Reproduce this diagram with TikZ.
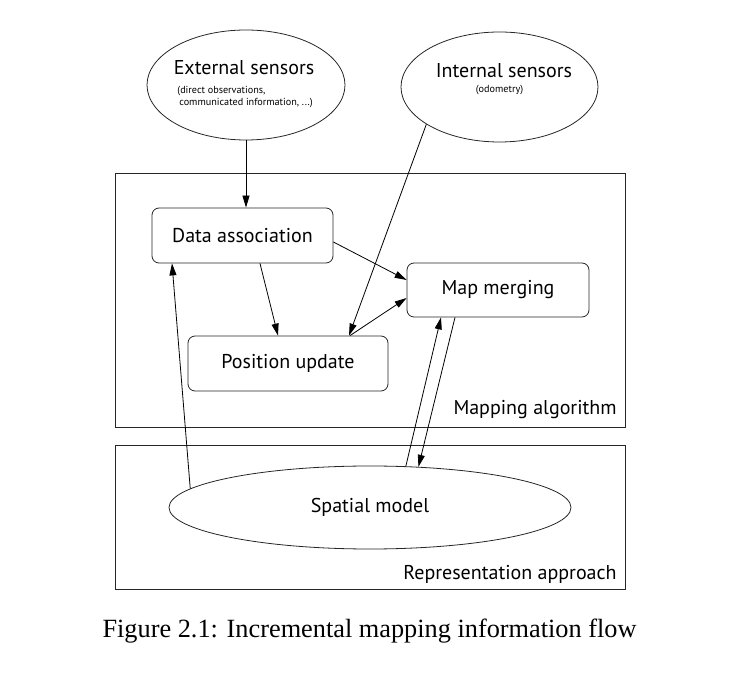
\documentclass[tikz,border=0pt]{standalone}
\usepackage{fontspec}
\setmainfont{PT Sans}
\newfontfamily\capfont{Liberation Serif}
\usetikzlibrary{arrows.meta,shapes.geometric}
\begin{document}
\begin{tikzpicture}[x=1pt,y=-1pt,
  line width=0.8pt,
  bx/.style={draw=black!85,rounded corners=7pt,inner sep=0pt,font=\fontsize{20}{22}\selectfont},
  ell/.style={draw=black!85,ellipse,inner sep=0pt},
  frm/.style={draw=black!85},
  lbl/.style={inner sep=0pt,anchor=base,font=\fontsize{20}{22}\selectfont},
  small/.style={inner sep=0pt,anchor=base west,font=\fontsize{10.2}{12}\selectfont},
  arr/.style={-{Triangle[length=12pt,width=7pt]},line width=0.8pt}]
\useasboundingbox (0,0) rectangle (748,684);
% frames
\node[frm,minimum width=510pt,minimum height=254pt,inner sep=0pt] (alg) at (370,300) {};
\node[frm,minimum width=510pt,minimum height=144pt,inner sep=0pt] (rep) at (370,517) {};
\node[lbl,anchor=base east] (algl) at (617,415) {Mapping algorithm};
\node[lbl,anchor=base east] (repl) at (617,580) {Representation approach};
% ellipses
\node[ell,minimum width=198pt,minimum height=110pt] (ext) at (246,85) {};
\node[lbl] (extl) at (244,75) {External sensors};
\node[small] (exts1) at (177,94) {(direct observations,};
\node[small] (exts2) at (179,106) {communicated information, ...)};
\node[ell,minimum width=197pt,minimum height=110pt] (int) at (499.5,87) {};
\node[lbl] (intl) at (504,78) {Internal sensors};
\node[small,anchor=base] (ints) at (499.5,93) {(odometry)};
\node[ell,minimum width=402pt,minimum height=83pt,font=\fontsize{20}{22}\selectfont] (sm) at (370,507.5) {Spatial model};
% boxes
\node[bx,minimum width=181pt,minimum height=55pt] (da) at (242.5,235.5) {Data association};
\node[bx,minimum width=182pt,minimum height=54pt] (mm) at (498,290) {Map merging};
\node[bx,minimum width=200pt,minimum height=55pt] (pu) at (288,363.5) {Position update};
% arrows
\draw[arr] (ext.south) -- (ext.south |- da.north);
\draw[arr] (int.207) -- ([xshift=61pt]pu.north);
\draw[arr] ([yshift=-6.5pt]da.east) -- ([yshift=10pt]mm.west);
\draw[arr] ([xshift=17.5pt]da.south) -- ([xshift=-10pt]pu.north);
\draw[arr] ([xshift=62pt]pu.north) -- ([yshift=-8pt]mm.west);
\draw[arr] (sm.174.5) -- ([xshift=-70.5pt]da.south);
\draw[arr] (sm.49.5) -- ([xshift=-57pt]mm.south);
\draw[arr] ([xshift=-43pt]mm.south) -- (sm.40);
% caption
\node[inner sep=0pt,anchor=base,font=\capfont\fontsize{26.3}{30}\selectfont] (cap) at (369.5,638) {Figure 2.1: Incremental mapping information flow};
\end{tikzpicture}
\end{document}
